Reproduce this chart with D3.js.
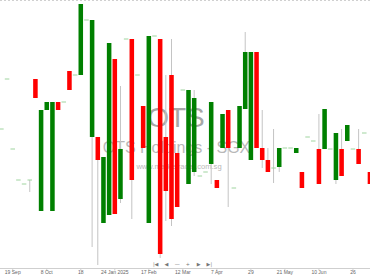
<!DOCTYPE html>
<html><head><meta charset="utf-8">
<script src="https://cdn.jsdelivr.net/npm/d3@7"></script>
<style>html,body{margin:0;padding:0;background:#fff;overflow:hidden}svg{display:block}</style>
</head><body>
<svg id="c" width="370" height="278"></svg>
<script>
const opens  = [.2525,.2775,.2425,.227,.225,.227,.2775,.2115,.262,.2115,.266,.266,.2815,.2795,.2795,.307,.2485,.2485,.2055,.2095,.2875,.2175,.2975,.2975,.2795,.264,.2055,.299,.2975,.2485,.2795,.2405,.272,.225,.231,.229,.231,.235,.227,.243,.262,.223,.243,.2625,.237,.291,.243,.237,.233,.2335,.243,.243,.2405,.231,.2485,.2465,.2425,.2425,.2425,.227,.2425,.2465,.2425,.2425,.2505,.231];
const highs  = [.2525,.2775,.2425,.227,.225,.227,.2775,.262,.266,.266,.266,.266,.2815,.2795,.315,.307,.307,.2485,.2385,.2955,.2875,.274,.2975,.2975,.2795,.264,.299,.299,.2975,.2795,.2975,.2405,.272,.272,.272,.229,.231,.266,.227,.26,.262,.223,.264,.301,.291,.291,.262,.243,.2525,.243,.243,.243,.243,.231,.2485,.2465,.26,.2625,.2425,.2505,.2525,.2545,.2425,.2525,.2505,.231];
const lows   = [.2525,.2775,.2425,.227,.225,.221,.268,.2115,.262,.2115,.262,.266,.272,.2795,.2795,.307,.1935,.1845,.2055,.2095,.21,.2155,.2975,.2075,.2795,.243,.2055,.299,.188,.2065,.204,.2135,.272,.225,.229,.229,.231,.225,.223,.243,.2135,.223,.243,.2625,.237,.243,.233,.231,.2255,.231,.243,.243,.2405,.223,.2485,.2465,.225,.2425,.2425,.225,.229,.2465,.2425,.235,.2505,.225];
const closes = [.2525,.2775,.2425,.227,.225,.227,.268,.262,.266,.266,.262,.266,.272,.2795,.315,.307,.307,.237,.2385,.2955,.21,.2425,.2975,.227,.2795,.243,.299,.299,.19,.2215,.2075,.2135,.272,.272,.268,.229,.231,.266,.223,.26,.243,.223,.264,.291,.291,.243,.237,.231,.233,.243,.243,.243,.243,.223,.2485,.2465,.225,.2625,.2425,.2505,.229,.2545,.2425,.235,.2505,.225];
const tickSlots  = [2,8,14,20,26,32,38,44,50,56,62];
const tickLabels = ["19 Sep","8 Oct","18","24 Jan 2025","17 Feb","12 Mar","7 Apr","29","21 May","10 Jun","26"];
const navButtons = ["|◀","◀","—","+","▶","▶|"];

const svg = d3.select("#c");
const W = 370, H = 278;
const n = opens.length;
const step = 5.67;
const x = d3.scaleBand().domain(d3.range(n))
  .range([1.4 - step/2, 1.4 - step/2 + n*step]).paddingInner(0.2).paddingOuter(0.1);
const y = d3.scaleLinear().domain([0.183, 0.317]).range([268, 0]);

const data = d3.range(n).map(i => ({i, o: opens[i], h: highs[i], l: lows[i], c: closes[i]}));

// top dashed grid line
svg.append("line").attr("x1",0).attr("x2",W).attr("y1",0.5).attr("y2",0.5)
  .attr("stroke","#d0d0d0").attr("stroke-dasharray","2,2");

// watermark
const wm = svg.append("g").attr("fill","#8a8a8a").attr("text-anchor","middle")
  .attr("font-family","Liberation Sans, Arial, sans-serif");
wm.append("text").attr("x",176).attr("y",127).attr("font-size",28).attr("opacity",0.75).text("OTS");
wm.append("text").attr("x",176.5).attr("y",153).attr("font-size",16).attr("opacity",0.6).text("OTS Holdings - SGX");
wm.append("text").attr("x",179).attr("y",169).attr("font-size",7.6).attr("opacity",0.6).text("www.marketradar.com.sg");

const cx = i => x(i) + x.bandwidth()/2;

// wicks
svg.append("g").selectAll("line").data(data.filter(d => d.h !== d.l)).join("line")
  .attr("x1", d => cx(d.i)).attr("x2", d => cx(d.i))
  .attr("y1", d => y(d.h)).attr("y2", d => y(d.l))
  .attr("stroke","#c4c4c4").attr("stroke-width",1);

// bodies
svg.append("g").selectAll("rect").data(data.filter(d => d.o !== d.c)).join("rect")
  .attr("x", d => x(d.i)).attr("width", x.bandwidth())
  .attr("y", d => y(Math.max(d.o,d.c)))
  .attr("height", d => Math.abs(y(d.o) - y(d.c)))
  .attr("fill", d => d.c > d.o ? "#008000" : "#ff0000");

// flat (no change) marks
svg.append("g").selectAll("line").data(data.filter(d => d.o === d.c)).join("line")
  .attr("x1", d => x(d.i)).attr("x2", d => x(d.i) + x.bandwidth())
  .attr("y1", d => y(d.c)).attr("y2", d => y(d.c))
  .attr("stroke","#9fd49f").attr("stroke-width",1);

// x axis
const axis = d3.axisBottom(x).tickValues(tickSlots)
  .tickFormat(d => tickLabels[tickSlots.indexOf(d)]).tickSize(2).tickSizeOuter(0);
const ax = svg.append("g").attr("transform","translate(0,268.5)").call(axis);
ax.select(".domain").attr("stroke","#cfcfcf").attr("d","M0,0H370");
ax.selectAll(".tick line").attr("stroke","#cfcfcf");
ax.selectAll(".tick text").attr("fill","#666").attr("font-size",5)
  .attr("font-family","Liberation Sans, Arial, sans-serif").attr("dy","0.55em").attr("y",3);

// navigation buttons
const navX = d3.scalePoint().domain(navButtons).range([155.7, 209.3]);
svg.append("g").selectAll("text").data(navButtons).join("text")
  .attr("x", d => navX(d)).attr("y", 265.5).attr("text-anchor","middle")
  .attr("font-size",5).attr("font-family","DejaVu Sans, sans-serif").attr("fill","#777")
  .text(d => d);
</script>
</body></html>
